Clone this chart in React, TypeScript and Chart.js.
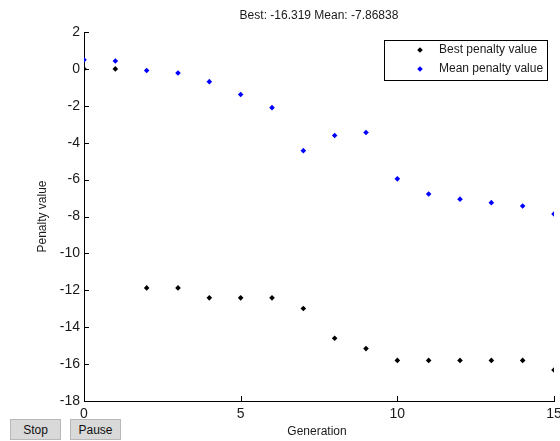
import React, { useEffect, useRef } from "react";
import { Chart, registerables } from "chart.js";

Chart.register(...registerables);

const generations = [0, 1, 2, 3, 4, 5, 6, 7, 8, 9, 10, 11, 12, 13, 14, 15];
const bestPenalty = [0, 0, -11.87, -11.87, -12.41, -12.41, -12.41, -12.99, -14.6, -15.16, -15.8, -15.8, -15.8, -15.8, -15.8, -16.319];
const meanPenalty = [0.49, 0.43, -0.09, -0.22, -0.69, -1.39, -2.1, -4.43, -3.61, -3.45, -5.96, -6.78, -7.06, -7.25, -7.43, -7.86838];
const xTicks = [0, 5, 10, 15];
const yTicks = [-18, -16, -14, -12, -10, -8, -6, -4, -2, 0, 2];
const titleText = "Best: -16.319 Mean: -7.86838";
const seriesNames = ["Best penalty value", "Mean penalty value"];
const seriesColors = ["#000000", "#0000ff"];

const FONT = "'Liberation Sans', Arial, sans-serif";

const decorPlugin = {
  id: "decor",
  afterDraw(chart: any) {
    const ctx = chart.ctx as CanvasRenderingContext2D;
    const area = chart.chartArea;
    const xs = chart.scales.x;
    const ys = chart.scales.y;
    ctx.save();
    // inward tick marks
    ctx.strokeStyle = "#000";
    ctx.lineWidth = 1;
    ctx.beginPath();
    xTicks.forEach((v) => {
      const px = Math.round(xs.getPixelForValue(v)) + 0.5;
      ctx.moveTo(px, area.bottom);
      ctx.lineTo(px, area.bottom - 5);
    });
    yTicks.forEach((v) => {
      const py = Math.round(ys.getPixelForValue(v)) + 0.5;
      ctx.moveTo(area.left, py);
      ctx.lineTo(area.left + 5, py);
    });
    ctx.stroke();

    // title
    const cx = (area.left + area.right) / 2;
    ctx.fillStyle = "#1a1a1a";
    ctx.font = `12px ${FONT}`;
    ctx.textAlign = "center";
    ctx.textBaseline = "middle";
    ctx.fillText(titleText, cx, 16);
    // x title
    ctx.fillText("Generation", cx - 2, 432);
    // y title
    ctx.save();
    ctx.translate(43, (area.top + area.bottom) / 2);
    ctx.rotate(-Math.PI / 2);
    ctx.fillText("Penalty value", 0, 0);
    ctx.restore();

    // legend
    const lx = 384.5, ly = 40.5, lw = 163, lh = 40;
    ctx.fillStyle = "#fff";
    ctx.fillRect(lx, ly, lw, lh);
    ctx.strokeStyle = "#000";
    ctx.strokeRect(lx, ly, lw, lh);
    ctx.font = `12px ${FONT}`;
    ctx.textAlign = "left";
    seriesNames.forEach((name, i) => {
      const y = 50 + i * 19;
      ctx.fillStyle = seriesColors[i];
      ctx.beginPath();
      ctx.moveTo(420, y - 2.8);
      ctx.lineTo(422.8, y);
      ctx.lineTo(420, y + 2.8);
      ctx.lineTo(417.2, y);
      ctx.closePath();
      ctx.fill();
      ctx.fillStyle = "#1a1a1a";
      ctx.fillText(name, 439, y);
    });
    ctx.restore();
  },
};

export default function App() {
  const ref = useRef<HTMLCanvasElement>(null);
  useEffect(() => {
    if (!ref.current) return;
    const mk = (vals: number[]) => generations.map((g, i) => ({ x: g, y: vals[i] }));
    const chart = new Chart(ref.current, {
      type: "scatter",
      data: {
        datasets: [
          {
            label: seriesNames[0],
            data: mk(bestPenalty),
            backgroundColor: seriesColors[0],
            borderColor: seriesColors[0],
            pointStyle: "rectRot",
            pointRadius: 2.8,
            borderWidth: 0,
          },
          {
            label: seriesNames[1],
            data: mk(meanPenalty),
            backgroundColor: seriesColors[1],
            borderColor: seriesColors[1],
            pointStyle: "rectRot",
            pointRadius: 2.8,
            borderWidth: 0,
          },
        ],
      },
      options: {
        animation: false,
        responsive: false,
        maintainAspectRatio: false,
        layout: { padding: { top: 32, right: 6, left: 0, bottom: 0 } },
        plugins: {
          legend: { display: false },
          title: { display: false },
          tooltip: { enabled: false },
        },
        scales: {
          x: {
            type: "linear",
            min: 0,
            max: 15,
            afterBuildTicks: (s: any) => {
              s.ticks = xTicks.map((v) => ({ value: v }));
            },
            grid: { display: false, drawTicks: false },
            border: { display: true, color: "#000", width: 1 },
            ticks: {
              padding: 5,
              color: "#1a1a1a",
              font: { family: FONT, size: 14 },
              maxRotation: 0,
              autoSkip: false,
            },
            afterFit: (s: any) => {
              s.height = 40;
              s.paddingLeft = 0;
              s.paddingRight = 0;
            },
          },
          y: {
            type: "linear",
            min: -18,
            max: 2,
            afterBuildTicks: (s: any) => {
              s.ticks = yTicks.map((v) => ({ value: v }));
            },
            grid: { display: false, drawTicks: false },
            border: { display: true, color: "#000", width: 1 },
            ticks: {
              padding: 4,
              color: "#1a1a1a",
              font: { family: FONT, size: 14 },
              autoSkip: false,
            },
            afterFit: (s: any) => {
              s.width = 84;
              s.paddingTop = 0;
              s.paddingBottom = 0;
            },
          },
        },
      },
      plugins: [decorPlugin],
    });
    return () => chart.destroy();
  }, []);

  const btn: React.CSSProperties = {
    position: "absolute",
    top: 419,
    width: 51,
    height: 21,
    background: "#d9d9d9",
    border: "1px solid #b8b8b8",
    boxSizing: "border-box",
    font: `12px ${FONT}`,
    color: "#111",
    display: "flex",
    alignItems: "center",
    justifyContent: "center",
  };

  return (
    <div style={{ position: "fixed", left: 0, top: 0, width: 560, height: 441, background: "#fff", overflow: "hidden" }}>
      <canvas ref={ref} width={560} height={441} style={{ position: "absolute", left: 0, top: 0 }} />
      <div style={{ ...btn, left: 10 }}>Stop</div>
      <div style={{ ...btn, left: 70 }}>Pause</div>
    </div>
  );
}
